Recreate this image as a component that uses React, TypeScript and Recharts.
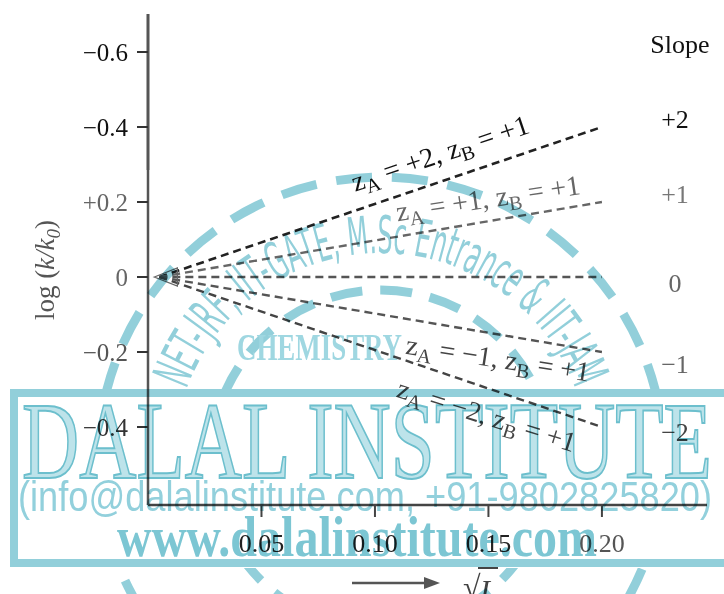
import React from 'react';
import { LineChart, Line, XAxis, YAxis, ReferenceLine, ReferenceDot, Label } from 'recharts';

// ---- data ----
const sqrtI = [0.005, 0.2];
const logZA2 = [0, 0.4];
const logZA1 = [0, 0.2];
const logZA0 = [0, 0];
const logZAm1 = [0, -0.2];
const logZAm2 = [0, -0.4];

const xTicks = [0.05, 0.1, 0.15, 0.2];
const xTickLabels = ['0.05', '0.10', '0.15', '0.20'];
const yTicks = [0.6, 0.4, 0.2, 0, -0.2, -0.4];
const yTickLabels = ['\u22120.6', '\u22120.4', '+0.2', '0', '\u22120.2', '\u22120.4'];

const slopeValues = ['+2', '+1', '0', '\u22121', '\u22122'];
const zAValues = ['+2', '+1', '\u22121', '\u22122'];
const zBValues = ['+1', '+1', '+1', '+1'];

const data = sqrtI.map((x, i) => ({
  x,
  a2: logZA2[i],
  a1: logZA1[i],
  a0: logZA0[i],
  am1: logZAm1[i],
  am2: logZAm2[i],
}));

// ---- layout / style (annotation anchors) ----
const SERIF = '"Liberation Serif", "Times New Roman", serif';
const yTickColors = ['#111', '#111', '#666', '#666', '#555', '#333'];
const xTickColors = ['#222', '#222', '#222', '#555'];
const lineLabelAnchors = [
  { x: 0.1286, y: 0.331, angle: -18.6, color: '#111' },
  { x: 0.1498, y: 0.211, angle: -8.5, color: '#666' },
  { x: 0.1542, y: -0.216, angle: 8.6, color: '#444' },
  { x: 0.1493, y: -0.368, angle: 17.4, color: '#444' },
];
const slopeAnchorX = 0.2322;
const slopeAnchorY = [0.4227, 0.2227, -0.0147, -0.232, -0.412];
const slopeColors = ['#111', '#777', '#666', '#666', '#444'];

const YTick = (props: any) => {
  const { x, y, index } = props;
  return (
    <text x={x} y={y} dy="0.35em" textAnchor="end" fontFamily={SERIF} fontSize={25} fill={yTickColors[index]}>
      {yTickLabels[index]}
    </text>
  );
};

const XTick = (props: any) => {
  const { x, y, index } = props;
  return (
    <text x={x} y={y} dy={27} textAnchor="middle" fontFamily={SERIF} fontSize={26} fill={xTickColors[index]}>
      {xTickLabels[index]}
    </text>
  );
};

const center = (vb: any) => ({ cx: vb.x + (vb.width || 0) / 2, cy: vb.y + (vb.height || 0) / 2 });

const makeLineNote = (i: number) => (props: any) => {
  const { cx, cy } = center(props.viewBox);
  const a = lineLabelAnchors[i];
  return (
    <text
      x={cx}
      y={cy}
      dy="0.35em"
      textAnchor="middle"
      transform={`rotate(${a.angle} ${cx} ${cy})`}
      fontFamily={SERIF}
      fontSize={28}
      fill={a.color}
    >
      z<tspan fontSize={20} dy={6}>A</tspan>
      <tspan dy={-6}>{` = ${zAValues[i]}, z`}</tspan>
      <tspan fontSize={20} dy={6}>B</tspan>
      <tspan dy={-6}>{` = ${zBValues[i]}`}</tspan>
    </text>
  );
};

const makeSlopeNote = (text: string, color: string) => (props: any) => {
  const { cx, cy } = center(props.viewBox);
  return (
    <text x={cx} y={cy} dy="0.35em" textAnchor="middle" fontFamily={SERIF} fontSize={26} fill={color}>
      {text}
    </text>
  );
};

const YTitle = (props: any) => {
  const vb = props.viewBox || { x: 0, y: 14 };
  const cx = vb.x + 45;
  const cy = vb.y + 256;
  return (
    <text x={cx} y={cy} dy="0.35em" textAnchor="middle" transform={`rotate(-90 ${cx} ${cy})`} fontFamily={SERIF} fontSize={27} fill="#555">
      log (<tspan fontStyle="italic">k/k</tspan>
      <tspan fontStyle="italic" fontSize={19} dy={6}>0</tspan>
      <tspan dy={-6}>)</tspan>
    </text>
  );
};

const XTitle = (props: any) => {
  const vb = props.viewBox || { x: 148, y: 505 };
  const y = vb.y + 78;
  const x1 = vb.x + 204;
  const x2 = vb.x + 292;
  const sx = vb.x + 315;
  return (
    <g>
      <line x1={x1} y1={y} x2={x2 - 10} y2={y} stroke="#555" strokeWidth={2.5} />
      <polygon points={`${x2},${y} ${x2 - 16},${y - 6} ${x2 - 16},${y + 6}`} fill="#555" />
      <text x={sx} y={vb.y + 93} fontFamily={SERIF} fontSize={32} fill="#444">√</text>
      <line x1={sx + 15} y1={vb.y + 63} x2={sx + 35} y2={vb.y + 63} stroke="#444" strokeWidth={2} />
      <text x={sx + 17} y={vb.y + 95} fontFamily={SERIF} fontStyle="italic" fontSize={30} fill="#444">I</text>
    </g>
  );
};

const OriginMark = (props: any) => {
  const { cx, cy } = props;
  if (cx == null || cy == null) return null;
  return (
    <polygon
      points={`${cx - 5},${cy} ${cx + 18},${cy - 9} ${cx + 18},${cy + 9}`}
      fill="none"
      stroke="#666"
      strokeWidth={1.3}
    />
  );
};

const TEAL = '#7fc7d4';

const Watermark = () => (
  <svg
    width={724}
    height={594}
    style={{ position: 'absolute', left: 0, top: 0, pointerEvents: 'none', mixBlendMode: 'multiply' }}
  >
    <defs>
      <clipPath id="outsideBanner">
        <rect x={0} y={0} width={724} height={389} />
        <rect x={0} y={568} width={724} height={30} />
      </clipPath>
      <path id="logoArc" d="M 186.5 389.2 A 207 207 0 0 1 575.5 389.2" />
    </defs>
    <g clipPath="url(#outsideBanner)" opacity={0.85}>
      <circle cx={381} cy={460} r={283} fill="none" stroke={TEAL} strokeWidth={9} strokeDasharray="36 20" />
      <circle cx={381} cy={460} r={170} fill="none" stroke={TEAL} strokeWidth={9} strokeDasharray="32 18" />
      <text fontFamily='"DejaVu Sans Condensed", "DejaVu Sans", sans-serif' fontSize={52} fill={TEAL}>
        <textPath href="#logoArc" textLength={505} lengthAdjust="spacingAndGlyphs">
          NET-JRF, IIT-GATE, M.Sc Entrance &amp; IIT-JAM
        </textPath>
      </text>
      <text x={237} y={360} fontFamily={SERIF} fontWeight="bold" fontSize={38} fill="#8fd0dc" textLength={165} lengthAdjust="spacingAndGlyphs">
        CHEMISTRY
      </text>
    </g>
    <rect x={14} y={393} width={730} height={170} fill="none" stroke={TEAL} strokeWidth={8} opacity={0.85} />
    <text x={22} y={478} fontFamily={SERIF} fontSize={110} fill="#bde3ea" stroke="#6cbfcd" strokeWidth={2} textLength={690} lengthAdjust="spacingAndGlyphs">
      DALAL INSTITUTE
    </text>
    <text x={18} y={511} fontFamily='"Liberation Sans", Arial, sans-serif' fontSize={42} fill="#92d0dc" textLength={694} lengthAdjust="spacingAndGlyphs">
      (info@dalalinstitute.com, +91-9802825820)
    </text>
    <text x={117} y={556} fontFamily={SERIF} fontWeight="bold" fontSize={58} fill="#7cc6d3" textLength={480} lengthAdjust="spacingAndGlyphs">
      www.dalalinstitute.com
    </text>
  </svg>
);

export default function App() {
  return (
    <div style={{ position: 'absolute', left: 0, top: 0, width: 724, height: 594, background: '#fff', overflow: 'hidden' }}>
      <LineChart width={724} height={594} data={data} margin={{ top: 14, right: 17, bottom: 0, left: 0 }}>
        <XAxis
          type="number"
          dataKey="x"
          domain={[0, 0.2463]}
          ticks={xTicks}
          tick={<XTick />}
          tickSize={12}
          tickMargin={8}
          height={89}
          axisLine={{ stroke: '#444', strokeWidth: 2.5 }}
          tickLine={{ stroke: '#444', strokeWidth: 2 }}
          interval={0}
        >
          <Label content={XTitle} />
        </XAxis>
        <YAxis
          type="number"
          domain={[-0.608, 0.7013]}
          ticks={yTicks}
          tick={<YTick />}
          tickSize={11}
          tickMargin={9}
          width={148}
          axisLine={{ stroke: '#555', strokeWidth: 2.5 }}
          tickLine={{ stroke: '#333', strokeWidth: 2 }}
          interval={0}
        >
          <Label content={YTitle} />
        </YAxis>
        <ReferenceLine
          segment={[{ x: 0, y: 0.285 }, { x: 0, y: 0.7013 }]}
          stroke="#111"
          strokeWidth={2.5}
        />
        <Line type="linear" dataKey="a2" stroke="#222" strokeWidth={2.6} strokeDasharray="8 5" dot={false} isAnimationActive={false} />
        <Line type="linear" dataKey="a1" stroke="#666" strokeWidth={2.4} strokeDasharray="8 5" dot={false} isAnimationActive={false} />
        <Line type="linear" dataKey="a0" stroke="#555" strokeWidth={2.4} strokeDasharray="8 5" dot={false} isAnimationActive={false} />
        <Line type="linear" dataKey="am1" stroke="#555" strokeWidth={2.4} strokeDasharray="8 5" dot={false} isAnimationActive={false} />
        <Line type="linear" dataKey="am2" stroke="#444" strokeWidth={2.4} strokeDasharray="8 5" dot={false} isAnimationActive={false} />
        <ReferenceDot x={sqrtI[0]} y={logZA0[0]} r={1} shape={<OriginMark />} />
        {lineLabelAnchors.map((a, i) => (
          <ReferenceDot key={`ll${i}`} x={a.x} y={a.y} r={1} fill="none" stroke="none">
            <Label content={makeLineNote(i)} />
          </ReferenceDot>
        ))}
        <ReferenceDot x={0.2344} y={0.621} r={1} fill="none" stroke="none">
          <Label content={makeSlopeNote('Slope', '#111')} />
        </ReferenceDot>
        {slopeValues.map((s, i) => (
          <ReferenceDot key={`sl${i}`} x={slopeAnchorX} y={slopeAnchorY[i]} r={1} fill="none" stroke="none">
            <Label content={makeSlopeNote(s, slopeColors[i])} />
          </ReferenceDot>
        ))}
      </LineChart>
      <Watermark />
    </div>
  );
}
